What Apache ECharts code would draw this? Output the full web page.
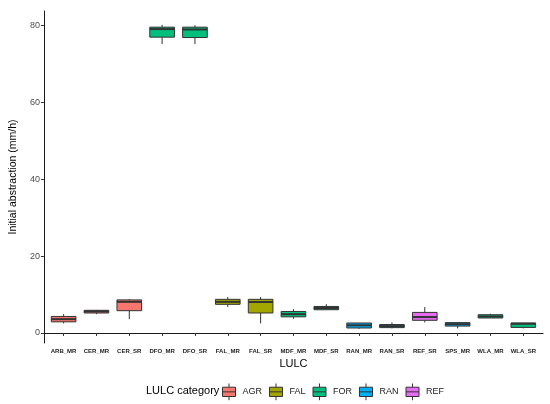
<!DOCTYPE html>
<html>
<head>
<meta charset="utf-8">
<script src="https://cdn.jsdelivr.net/npm/echarts@6.0.0/dist/echarts.min.js"></script>
<style>
  html, body { margin: 0; padding: 0; background: #ffffff; }
  #chart { width: 550px; height: 404px; }
</style>
</head>
<body>
<div id="chart"></div>
<script>
// categories on the x axis and the LULC group each one belongs to
var categories = ['ARB_MR', 'CER_MR', 'CER_SR', 'DFO_MR', 'DFO_SR', 'FAL_MR', 'FAL_SR',
  'MDF_MR', 'MDF_SR', 'RAN_MR', 'RAN_SR', 'REF_SR', 'SPS_MR', 'WLA_MR', 'WLA_SR'];
var groupOf = ['AGR', 'AGR', 'AGR', 'FOR', 'FOR', 'FAL', 'FAL',
  'FOR', 'FOR', 'RAN', 'RAN', 'REF', 'RAN', 'FOR', 'FOR'];

// box statistics (mm/h)
var mins    = [2.5, 4.9, 3.6, 75.1, 75.1, 6.75, 2.5, 3.7, 6.0, 1.1, 1.2, 2.75, 1.2, 3.9, 1.2];
var q1s     = [2.9, 5.2, 5.8, 76.9, 76.8, 7.45, 5.2, 4.2, 6.05, 1.3, 1.4, 3.3, 1.8, 3.9, 1.45];
var medians = [3.6, 5.6, 8.1, 79.0, 78.9, 8.1, 8.05, 4.9, 6.5, 2.0, 1.8, 4.15, 2.3, 4.3, 2.4];
var q3s     = [4.3, 5.9, 8.6, 79.5, 79.5, 8.75, 8.75, 5.6, 6.9, 2.6, 2.2, 5.35, 2.7, 4.75, 2.6];
var maxs    = [4.9, 6.0, 8.8, 80.1, 80.0, 9.35, 9.35, 6.2, 7.5, 2.6, 2.75, 6.75, 2.8, 5.0, 2.6];

var groups = ['AGR', 'FAL', 'FOR', 'RAN', 'REF'];
var groupColors = ['#F8766D', '#A3A500', '#00BF7D', '#00B0F6', '#E76BF3'];
var yTicks = [0, 20, 40, 60, 80];

var font = '"Liberation Sans", Arial, sans-serif';
var edge = '#333333';

// ggplot-style box: no whisker caps, thicker median
function renderBox(params, api) {
  var x = api.value(0);
  var lo = api.coord([x, api.value(1)]);
  var q1 = api.coord([x, api.value(2)]);
  var md = api.coord([x, api.value(3)]);
  var q3 = api.coord([x, api.value(4)]);
  var hi = api.coord([x, api.value(5)]);
  var w = api.size([0.75, 0])[0];
  var left = lo[0] - w / 2;
  var color = api.visual('color');
  return {
    type: 'group',
    children: [
      { type: 'line', shape: { x1: lo[0], y1: lo[1], x2: q1[0], y2: q1[1] },
        style: { stroke: edge, lineWidth: 1 } },
      { type: 'line', shape: { x1: q3[0], y1: q3[1], x2: hi[0], y2: hi[1] },
        style: { stroke: edge, lineWidth: 1 } },
      { type: 'rect', shape: { x: left, y: q3[1], width: w, height: q1[1] - q3[1] },
        style: { fill: color, stroke: edge, lineWidth: 1 } },
      { type: 'line', shape: { x1: left, y1: md[1], x2: left + w, y2: md[1] },
        style: { stroke: edge, lineWidth: 2 } }
    ]
  };
}

var series = groups.map(function (g, gi) {
  var data = [];
  categories.forEach(function (c, i) {
    if (groupOf[i] === g) data.push([i + 1, mins[i], q1s[i], medians[i], q3s[i], maxs[i]]);
  });
  return {
    name: g,
    type: 'custom',
    renderItem: renderBox,
    encode: { x: 0, y: [1, 2, 3, 4, 5] },
    itemStyle: { color: groupColors[gi], borderColor: edge, borderWidth: 1 },
    data: data
  };
});

var chart = echarts.init(document.getElementById('chart'));
chart.setOption({
  animation: false,
  backgroundColor: '#ffffff',
  color: groupColors,
  title: {
    text: 'LULC category',
    left: 146,
    top: 385,
    textStyle: { fontFamily: font, fontSize: 11, fontWeight: 'normal', color: '#000000' },
    padding: 0
  },
  legend: {
    data: groups,
    left: 222,
    top: 383,
    itemWidth: 13,
    itemHeight: 18,
    itemGap: 7,
    icon: 'path://M0,4H14V14H0Z M0,9H14 M7,0V4 M7,14V18',
    itemStyle: { borderColor: edge, borderWidth: 1 },
    textStyle: { fontFamily: font, fontSize: 9, color: '#1a1a1a', padding: [0, 0, 0, 2] },
    padding: 0
  },
  grid: { left: 40, right: 7, top: 11, bottom: 61, containLabel: false },
  xAxis: {
    type: 'value',
    min: 0.4,
    max: 15.6,
    name: 'LULC',
    nameLocation: 'middle',
    nameGap: 12,
    nameTextStyle: { fontFamily: font, fontSize: 11, color: '#000000' },
    axisLine: { show: true, lineStyle: { color: '#1a1a1a', width: 1 } },
    axisTick: { show: true, length: 3, lineStyle: { color: edge },
      customValues: categories.map(function (c, i) { return i + 1; }) },
    axisLabel: {
      customValues: categories.map(function (c, i) { return i + 1; }),
      formatter: function (v) { return categories[Math.round(v) - 1] || ''; },
      fontFamily: font, fontSize: 6, fontWeight: 'bold', color: '#222222', margin: 5
    },
    splitLine: { show: false }
  },
  yAxis: {
    type: 'value',
    min: -2.6,
    max: 83.7,
    name: 'Initial abstraction (mm/h)',
    nameLocation: 'middle',
    nameRotate: 90,
    nameGap: 17,
    nameTextStyle: { fontFamily: font, fontSize: 10.5, color: '#000000' },
    axisLine: { show: true, lineStyle: { color: '#1a1a1a', width: 1 } },
    axisTick: { show: true, length: 3, lineStyle: { color: edge }, customValues: yTicks },
    axisLabel: { customValues: yTicks, fontFamily: font, fontSize: 9, color: '#4d4d4d', margin: 4 },
    splitLine: { show: false }
  },
  series: series
});
</script>
</body>
</html>
